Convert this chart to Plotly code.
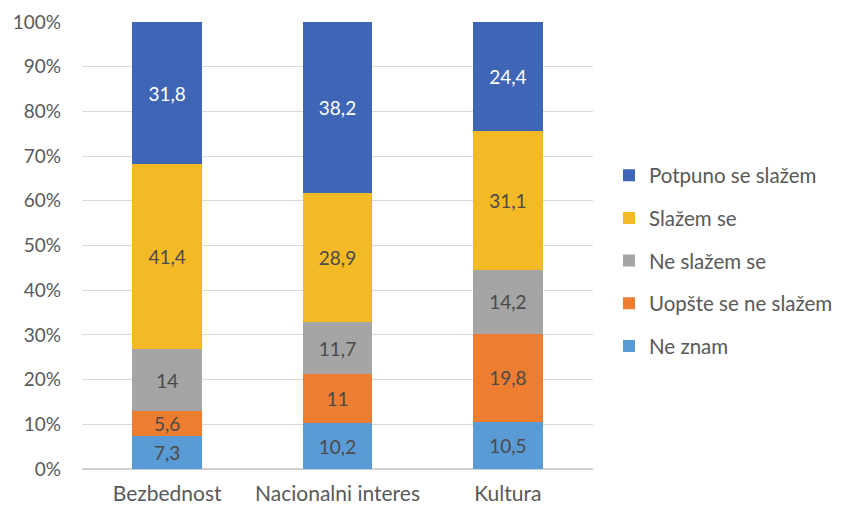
import plotly.graph_objects as go

categories = ["Bezbednost", "Nacionalni interes", "Kultura"]
series_names = ["Ne znam", "Uopšte se ne slažem", "Ne slažem se", "Slažem se", "Potpuno se slažem"]
ne_znam = [7.3, 10.2, 10.5]
uopste = [5.6, 11.0, 19.8]
ne_slazem = [14.0, 11.7, 14.2]
slazem = [41.4, 28.9, 31.1]
potpuno = [31.8, 38.2, 24.4]
y_ticks = [0, 10, 20, 30, 40, 50, 60, 70, 80, 90, 100]
y_tick_labels = [f"{v}%" for v in y_ticks]

series_values = [ne_znam, uopste, ne_slazem, slazem, potpuno]
colors = ["#5B9BD5", "#ED7D31", "#A5A5A5", "#F4BA26", "#3F66B6"]
text_colors = ["#4A4A4A", "#4A4A4A", "#4A4A4A", "#4A4A4A", "#FFFFFF"]

FONT = "Lato, 'Open Sans', sans-serif"

def fmt(v):
    s = ("%.1f" % v).rstrip("0").rstrip(".")
    return s.replace(".", ",")

fig = go.Figure()
for i, (name, vals, col, tcol) in enumerate(zip(series_names, series_values, colors, text_colors)):
    fig.add_trace(go.Bar(
        name=name, x=categories, y=vals,
        marker=dict(color=col, line=dict(width=0)),
        text=[fmt(v) for v in vals],
        textposition="inside", insidetextanchor="middle", textangle=0,
        constraintext="none",
        textfont=dict(color=tcol, size=19, family=FONT),
        legendgroup=name, legendrank=1000 - i,
        hoverinfo="skip",
    ))

fig.update_layout(
    barmode="stack", barnorm="percent", bargap=0.59,
    width=826, height=498,
    margin=dict(l=74, r=241, t=14, b=37, autoexpand=False),
    plot_bgcolor="white", paper_bgcolor="white",
    font=dict(family=FONT, size=20, color="#595959"),
    showlegend=True,
    legend=dict(
        xref="container", yref="container",
        x=0.7276, xanchor="left", y=0.492, yanchor="middle",
        traceorder="grouped", tracegroupgap=13,
        font=dict(size=20.5, color="#595959", family=FONT),
        itemwidth=30, bgcolor="rgba(0,0,0,0)",
    ),
    xaxis=dict(showgrid=False, showline=False, ticks="", ticklabelstandoff=10,
               automargin=False, tickfont=dict(size=21, color="#595959")),
    yaxis=dict(range=[0, 100], tickvals=y_ticks, ticktext=y_tick_labels,
               showgrid=True, gridcolor="#D9D9D9", gridwidth=1,
               zeroline=True, zerolinecolor="#D0D0D0", zerolinewidth=2,
               ticks="", ticklabelstandoff=20, automargin=False,
               tickfont=dict(size=19, color="#595959")),
)

fig.write_html("out.html")
